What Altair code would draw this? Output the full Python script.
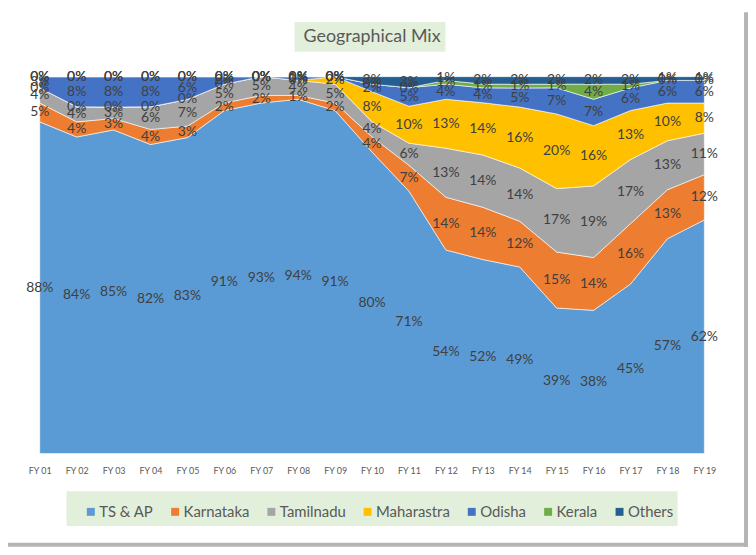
import altair as alt
import pandas as pd

years = ["FY 01", "FY 02", "FY 03", "FY 04", "FY 05", "FY 06", "FY 07", "FY 08", "FY 09", "FY 10",
         "FY 11", "FY 12", "FY 13", "FY 14", "FY 15", "FY 16", "FY 17", "FY 18", "FY 19"]
regions = ["TS & AP", "Karnataka", "Tamilnadu", "Maharastra", "Odisha", "Kerala", "Others"]
colors = ["#5B9BD5", "#ED7D31", "#A5A5A5", "#FFC000", "#4472C4", "#70AD47", "#255E91"]

ts_ap      = [88, 84, 85, 82, 83, 91, 93, 94, 91, 80, 71, 54, 52, 49, 39, 38, 45, 57, 62]
karnataka  = [5, 4, 3, 4, 3, 2, 2, 1, 2, 4, 7, 14, 14, 12, 15, 14, 16, 13, 12]
tamilnadu  = [4, 4, 3, 6, 7, 5, 5, 4, 5, 4, 6, 13, 14, 14, 17, 19, 17, 13, 11]
maharastra = [0, 0, 0, 0, 0, 0, 0, 0, 2, 8, 10, 13, 14, 16, 20, 16, 13, 10, 8]
odisha     = [3, 8, 8, 8, 6, 2, 0, 1, 0, 2, 5, 4, 4, 5, 7, 7, 6, 6, 6]
kerala     = [0, 0, 0, 0, 0, 0, 0, 0, 0, 0, 0, 1, 1, 1, 1, 4, 1, 0, 0]
others     = [0, 0, 0, 0, 0, 0, 0, 0, 0, 2, 3, 1, 2, 2, 2, 2, 2, 1, 1]

series = [ts_ap, karnataka, tamilnadu, maharastra, odisha, kerala, others]
rows = []
for k, (reg, vals) in enumerate(zip(regions, series)):
    for yr, v in zip(years, vals):
        rows.append({"year": yr, "region": reg, "order": k, "value": v})
df = pd.DataFrame(rows)

FONT = "Lato"

base = alt.Chart(df).transform_stack(
    stack="value", groupby=["year"], as_=["y0", "y1"], offset="normalize",
    sort=[alt.SortField("order", order="ascending")]
).transform_calculate(
    mid="(datum.y0 + datum.y1) / 2",
    label="datum.value + '%'"
)

xenc = alt.X("year:O", sort=years, scale=alt.Scale(type="point", padding=0),
             axis=alt.Axis(title=None, labelAngle=0, labelFontSize=9, labelColor="#595959",
                           labelFont=FONT, domain=False, ticks=False, labelPadding=13,
                           labelOverlap=False))

area = base.mark_area(stroke="white", strokeWidth=0.6, opacity=1).encode(
    x=xenc,
    y=alt.Y("y1:Q", scale=alt.Scale(domain=[0, 1]), axis=None),
    y2="y0:Q",
    color=alt.Color("region:N", sort=regions,
                    scale=alt.Scale(domain=regions, range=colors),
                    legend=alt.Legend(title=None, orient="none", legendX=44, legendY=431,
                                      direction="horizontal", symbolType="square",
                                      symbolSize=64, symbolStrokeWidth=0, labelFontSize=15,
                                      labelFont=FONT, labelColor="#595959", labelOffset=1,
                                      columnPadding=14, padding=0)),
    order=alt.Order("order:Q")
)

labels = base.mark_text(font=FONT, fontSize=14, color="#404040").encode(
    x=alt.X("year:O", sort=years),
    y=alt.Y("mid:Q", scale=alt.Scale(domain=[0, 1])),
    text="label:N"
)

title_df = pd.DataFrame({"t": ["Geographical Mix"]})
title_box = alt.Chart(title_df).mark_rect(color="#E2EFDA").encode(
    x=alt.value(257), x2=alt.value(409), y=alt.value(-55), y2=alt.value(-25))
title_txt = alt.Chart(title_df).mark_text(font=FONT, fontSize=18, color="#595959").encode(
    x=alt.value(335), y=alt.value(-40), text="t:N")
legend_box = alt.Chart(title_df).mark_rect(color="#E2EFDA").encode(
    x=alt.value(27), x2=alt.value(643), y=alt.value(418), y2=alt.value(453))
shadow_r = alt.Chart(title_df).mark_rule(color="#B4B4B4", strokeWidth=4).encode(
    x=alt.value(712), y=alt.value(-65), y2=alt.value(474))
shadow_b = alt.Chart(title_df).mark_rule(color="#B4B4B4", strokeWidth=4).encode(
    x=alt.value(-32), x2=alt.value(714), y=alt.value(472))

chart = alt.layer(legend_box, title_box, title_txt, area, labels, shadow_r, shadow_b).properties(
    width=670, height=380,
    padding={"left": 32, "top": 67, "right": 44, "bottom": 94},
    autosize=alt.AutoSizeParams(type="none"),
    background="white"
).configure_view(stroke=None)

chart.save("out.html", embed_options={"renderer": "svg", "actions": False})
